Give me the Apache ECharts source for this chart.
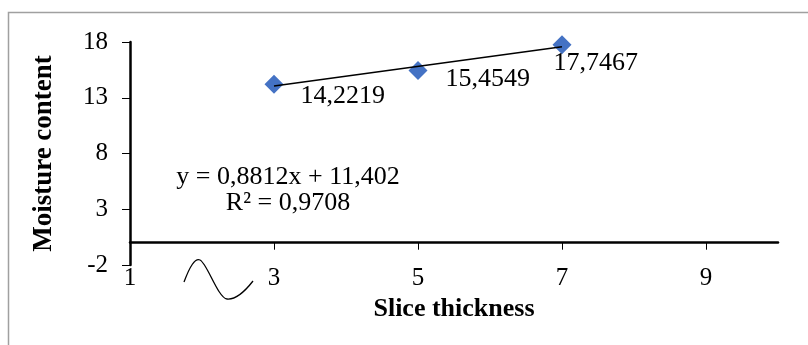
<!DOCTYPE html>
<html>
<head>
<meta charset="utf-8">
<script src="https://cdn.jsdelivr.net/npm/echarts@6/dist/echarts.min.js"></script>
<style>
  html, body { margin: 0; padding: 0; background: #fff; }
  #chart { width: 808px; height: 345px; }
</style>
</head>
<body>
<div id="chart"></div>
<script>
// slice thickness vs moisture content
var thickness = [3, 5, 7];
var moisture = [14.2219, 15.4549, 17.7467];
// trendline end points
var trendX = [3, 7];
var trendY = [14.05, 17.57];
var xTicks = [1, 3, 5, 7, 9];
var yTicks = [-2, 3, 8, 13, 18];
var equation = 'y = 0,8812x + 11,402';
var rSquared = 'R² = 0,9708';

// where each data label sits next to its marker (Excel placed them by hand)
var labelOffsets = [[17, 12], [18, 9], [-18, 18]];

var serif = "'Times New Roman', 'Liberation Serif', serif";

function comma(v) {
  return String(v).replace('.', ',');
}

var myEchart = echarts.init(document.getElementById('chart'));

var pointData = thickness.map(function (x, i) {
  return {
    value: [x, moisture[i]],
    label: { offset: labelOffsets[i] }
  };
});
var trendData = trendX.map(function (x, i) {
  return [x, trendY[i]];
});

// stray squiggle under the axis, drawn as three curve pieces
var squiggle = [
  { x1: 184, y1: 282, cpx1: 190, cpy1: 266, cpx2: 195, cpy2: 258, x2: 200, y2: 260 },
  { x1: 200, y1: 260, cpx1: 207, cpy1: 263, cpx2: 218, cpy2: 298, x2: 227, y2: 299 },
  { x1: 227, y1: 299, cpx1: 237, cpy1: 300, cpx2: 246, cpy2: 290, x2: 253, y2: 281 }
].map(function (s) {
  return {
    type: 'bezierCurve',
    silent: true,
    shape: s,
    style: { fill: 'none', stroke: '#000', lineWidth: 1.3 }
  };
});

var option = {
  animation: false,
  grid: {
    left: 130,
    right: 30,
    top: 42,
    bottom: 80,
    outerBoundsMode: 'none'
  },
  xAxis: [
    {
      // the line through y = 0 with its ticks
      type: 'value',
      min: xTicks[0],
      max: 10,
      interval: 2,
      axisLine: { onZero: true, lineStyle: { color: '#000', width: 2.5 } },
      axisTick: { show: true, length: 7, customValues: xTicks, lineStyle: { color: '#000', width: 1 } },
      axisLabel: { show: false },
      splitLine: { show: false }
    },
    {
      // labels kept at the bottom, like Excel's "low" label position
      type: 'value',
      position: 'bottom',
      min: xTicks[0],
      max: 10,
      interval: 2,
      axisLine: { show: false, onZero: false },
      axisTick: { show: false },
      axisLabel: {
        margin: 1,
        customValues: xTicks,
        fontFamily: serif,
        fontSize: 25,
        color: '#000'
      },
      splitLine: { show: false },
      name: 'Slice thickness',
      nameLocation: 'middle',
      nameGap: 30,
      nameTextStyle: { fontFamily: serif, fontSize: 26, fontWeight: 'bold', color: '#000' }
    }
  ],
  yAxis: {
    type: 'value',
    min: yTicks[0],
    max: yTicks[yTicks.length - 1],
    interval: 5,
    axisLine: { show: true, onZero: false, lineStyle: { color: '#000', width: 2.5 } },
    axisTick: { show: true, length: 8, lineStyle: { color: '#000', width: 1 } },
    axisLabel: { margin: 22, fontFamily: serif, fontSize: 25, color: '#000' },
    splitLine: { show: false },
    name: 'Moisture content',
    nameLocation: 'middle',
    nameGap: 72,
    nameTextStyle: { fontFamily: serif, fontSize: 27, fontWeight: 'bold', color: '#000' }
  },
  series: [
    {
      name: 'trend',
      type: 'line',
      xAxisIndex: 0,
      data: trendData,
      showSymbol: false,
      symbol: 'none',
      lineStyle: { color: '#000', width: 1.5 },
      z: 3
    },
    {
      name: 'Moisture content',
      type: 'scatter',
      xAxisIndex: 0,
      data: pointData,
      symbol: 'diamond',
      symbolSize: 19,
      itemStyle: { color: '#4472C4', opacity: 1 },
      label: {
        show: true,
        position: 'right',
        distance: 0,
        fontFamily: serif,
        fontSize: 26,
        color: '#000',
        opacity: 1,
        formatter: function (p) {
          return comma(p.value[1]);
        }
      },
      z: 2
    }
  ],
  graphic: [
    {
      type: 'rect',
      silent: true,
      z: -10,
      shape: { x: 8.5, y: 12.5, width: 900, height: 400 },
      style: { fill: 'none', stroke: '#a0a0a0', lineWidth: 1.5 }
    },
    {
      type: 'text',
      x: 288,
      y: 190,
      silent: true,
      style: {
        text: equation + '\n' + rSquared,
        fontFamily: serif,
        fontSize: 26,
        lineHeight: 26,
        fill: '#000',
        textAlign: 'center',
        textVerticalAlign: 'middle'
      }
    }
  ].concat(squiggle)
};

myEchart.setOption(option);
</script>
</body>
</html>
